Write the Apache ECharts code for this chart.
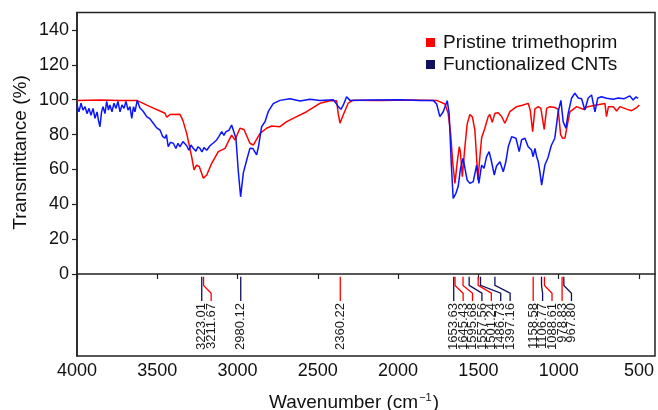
<!DOCTYPE html>
<html>
<head>
<meta charset="utf-8">
<script src="https://cdn.jsdelivr.net/npm/echarts@6/dist/echarts.min.js"></script>
<style>
html,body{margin:0;padding:0;background:#fff;}
#chart{width:658px;height:410px;}
</style>
</head>
<body>
<div id="chart"></div>
<script>
const FONT = '"Liberation Sans", Arial, Helvetica, sans-serif';

// ---- data ----
const xTicks = [4000, 3500, 3000, 2500, 2000, 1500, 1000, 500];
const yTicks = [0, 20, 40, 60, 80, 100, 120, 140];
const seriesNames = ['Pristine trimethoprim', 'Functionalized CNTs'];

const redWn = [4000,3857,3732,3628,3545,3452,3441,3421,3359,3340,3317,3286,3271,3255,3238,3213,3192,3161,3120,3078,3058,3037,3016,2985,2960,2923,2902,2860,2819,2788,2736,2694,2632,2570,2487,2425,2383,2373,2362,2342,2311,2280,2113,1926,1760,1708,1688,1673,1660,1646,1632,1619,1612,1600,1584,1570,1553,1537,1522,1511,1503,1491,1480,1460,1439,1429,1414,1397,1377,1356,1335,1304,1262,1221,1190,1177,1162,1148,1127,1111,1090,1075,1055,1024,1003,988,976,961,945,930,888,847,818,764,712,702,690,660,639,619,577,546,515,498];
const redT  = [99.6,99.8,99.5,99.6,96,92.2,89.9,91.5,91.6,88,80.7,67.3,59.7,62.5,61.6,54.9,56.8,63.5,70.2,72.1,75.9,79.7,76.9,83.6,82.9,75,74,80.7,83.6,84.9,84.5,87.4,90.3,93.1,97.9,99.4,99.4,92,86.5,91.2,98,99.7,99.6,99.8,99.6,97.5,92,80.7,64,52,64,73,70,55.8,73,86,91.5,90,82.6,66.4,54,67,78,83.6,90.3,91.5,87,92.2,92.5,90.5,86.5,93.1,96,97,97.9,94,81.7,94.7,96,95,83,95,96,95.5,94.5,80,77.9,78,86,93,96,94.5,96,97,97.8,90.3,96,96,93.5,96,94.6,93.7,95.4,97];

const blueWn = [4000,3988,3975,3963,3950,3938,3925,3913,3900,3888,3875,3866,3857,3847,3838,3826,3815,3804,3795,3782,3770,3757,3745,3732,3720,3707,3695,3682,3670,3659,3648,3639,3625,3608,3589,3566,3545,3525,3505,3483,3467,3452,3443,3432,3418,3400,3384,3371,3359,3340,3317,3303,3290,3276,3259,3247,3234,3222,3209,3192,3172,3153,3130,3116,3099,3085,3072,3053,3037,3027,3010,2996,2981,2964,2943,2923,2904,2892,2881,2870,2850,2829,2809,2778,2736,2674,2611,2549,2487,2404,2387,2373,2356,2341,2321,2300,2176,1989,1864,1781,1760,1740,1719,1694,1682,1669,1657,1640,1626,1611,1595,1584,1570,1553,1532,1511,1497,1480,1465,1449,1433,1418,1401,1387,1366,1345,1329,1314,1293,1266,1246,1231,1210,1190,1169,1159,1148,1137,1127,1117,1106,1086,1067,1046,1024,1003,986,972,955,941,920,899,878,857,837,816,795,774,756,733,702,660,629,594,557,536,519,505];
const blueT  = [97,93,98,94,96,92,95,91,95,89.3,93,88,84.5,93,96,92,99,94,97,93,98,95,99,93,97,95,99,94,96,89.3,96,93,99.6,95.2,93.5,90.3,89,86.5,84,82.6,79,77.9,80,73,75.5,75,72,75,73,76,73.6,71,74,72.1,70.5,73,72.1,70,72.5,71,73.6,75,76.9,79,81.7,79.5,81.7,82.5,85.5,86.5,77.9,59.7,44.3,58,65.4,72.1,72,73,68.3,73,84.5,87.4,93.1,97.7,99.6,100.5,99.2,100.3,99.5,100,98,96,94.5,97,101.7,99.6,99.8,100,99.6,99.6,97.5,90.3,93.1,99.4,92,63.5,43.4,46.3,50.2,60.7,66.4,60.7,53.9,52,53,62.5,52,62.5,60.6,67.3,70.2,64.4,56.8,62,64.4,58.7,64.4,73,78.8,77.9,70.2,77,77.9,73,71.1,67.3,72,67.3,64.4,58.7,51,62.5,66.6,73.7,77.9,93.1,99.6,87.4,83.6,92,100.8,103.7,101,100.5,94.1,101,102.7,93,101,101.7,100.8,100.2,101,100.5,102.2,99.8,101.6,100.8];

const peakWn    = [3223.01,3211.67,2980.12,2360.22,1653.63,1645.43,1595.68,1557.56,1501.24,1486.73,1397.16,1158.58,1106.77,1088.61,978.83,967.80];
const peakLabel = ['3223.01','3211.67','2980.12','2360.22','1653.63','1645.43','1595.68','1557.56','1501.24','1486.73','1397.16','1158.58','1106.77','1088.61','978.83','967.80'];
const peakOwner = [1,0,1,0,1,0,0,1,0,1,1,0,1,0,0,1]; // 0 = pristine, 1 = CNTs

// ---- styles ----
const RED = '#ff0000';
const BLUE = '#0a14ff';
const NAVY = '#10105c';
const AXIS = '#222222';

const chart = echarts.init(document.getElementById('chart'), null, {renderer: 'canvas'});

function zip(a, b) { return a.map((v, i) => [v, b[i]]); }

function renderPeak(params, api) {
  const i = params.dataIndex;
  let prev = -Infinity, px = 0, lx = 0;
  for (let k = 0; k <= i; k++) {
    const p = api.coord([peakWn[k], 0])[0];
    const l = Math.max(p, prev + 9.4);
    prev = l;
    if (k === i) { px = p; lx = l; }
  }
  const y1 = api.coord([0, -1.5])[1];
  const y2 = api.coord([0, -6.5])[1];
  const y3 = api.coord([0, -11])[1];
  const y4 = api.coord([0, -15.5])[1];
  const yt = api.coord([0, -16.6])[1];
  const color = peakOwner[i] === 0 ? RED : NAVY;
  return {
    type: 'group',
    children: [
      {type: 'polyline', shape: {points: [[px, y1], [px, y2], [lx, y3], [lx, y4]]},
       style: {stroke: color, lineWidth: 1.3, fill: null}},
      {type: 'text', x: lx, y: yt, rotation: Math.PI / 2,
       style: {text: peakLabel[i], fontSize: 13, fontFamily: FONT, fill: '#1a1a1a',
               align: 'right', verticalAlign: 'middle'}}
    ]
  };
}

const option = {
  animation: false,
  backgroundColor: '#ffffff',
  grid: {left: 77, right: 3, top: 12.5, bottom: 54, show: true, borderColor: AXIS, borderWidth: 1.5,
         backgroundColor: 'transparent', containLabel: false, outerBoundsMode: 'none'},
  legend: {
    data: [
      {name: seriesNames[0], itemStyle: {color: RED}},
      {name: seriesNames[1], itemStyle: {color: NAVY}}
    ],
    orient: 'vertical', left: 421, top: 28,
    icon: 'rect', itemWidth: 9, itemHeight: 9, itemGap: 3,
    textStyle: {fontSize: 19, fontFamily: FONT, color: '#111', padding: [0, 0, 0, 3]}
  },
  xAxis: {
    type: 'value', inverse: true, min: 400, max: 4000,
    axisLine: {show: true, lineStyle: {color: AXIS, width: 1.5}},
    axisTick: {show: true, length: 5, inside: false, lineStyle: {color: AXIS, width: 1.2}, customValues: xTicks},
    axisLabel: {fontSize: 18, fontFamily: FONT, color: '#111', margin: 6, customValues: xTicks,
                formatter: v => String(v)},
    splitLine: {show: false},
    name: '{a|Wavenumber (cm}{s|−1}{a|)}',
    nameLocation: 'middle', nameGap: 36,
    nameTextStyle: {padding: [0, 24, 0, 0], rich: {
      a: {fontSize: 19, fontFamily: FONT, color: '#111'},
      s: {fontSize: 11, fontFamily: FONT, color: '#111', verticalAlign: 'top', padding: [0, 1, 10, 1]}
    }}
  },
  yAxis: {
    type: 'value', min: -47, max: 150,
    axisLine: {show: true, lineStyle: {color: AXIS, width: 1.5}},
    axisTick: {show: true, length: 5, inside: false, lineStyle: {color: AXIS, width: 1.2}, customValues: yTicks},
    axisLabel: {fontSize: 18, fontFamily: FONT, color: '#111', margin: 8, customValues: yTicks,
                formatter: v => String(v)},
    splitLine: {show: false}
  },
  graphic: [{
    type: 'text', x: 21, y: 152.5, rotation: Math.PI / 2,
    style: {text: 'Transmittance (%)', fontSize: 19, fontFamily: FONT, fill: '#111', align: 'center', verticalAlign: 'middle'}
  }],
  series: [
    {name: seriesNames[0], type: 'line', data: zip(redWn, redT), showSymbol: false,
     lineStyle: {color: RED, width: 1.5}, itemStyle: {color: RED}, z: 2},
    {name: seriesNames[1], type: 'line', data: zip(blueWn, blueT), showSymbol: false,
     lineStyle: {color: BLUE, width: 1.5}, itemStyle: {color: BLUE}, z: 3},
    {type: 'custom', renderItem: renderPeak, data: peakWn.map(w => [w, 0]), encode: {x: 0, y: 1}, silent: true, z: 4}
  ]
};
chart.setOption(option);
</script>
</body>
</html>
